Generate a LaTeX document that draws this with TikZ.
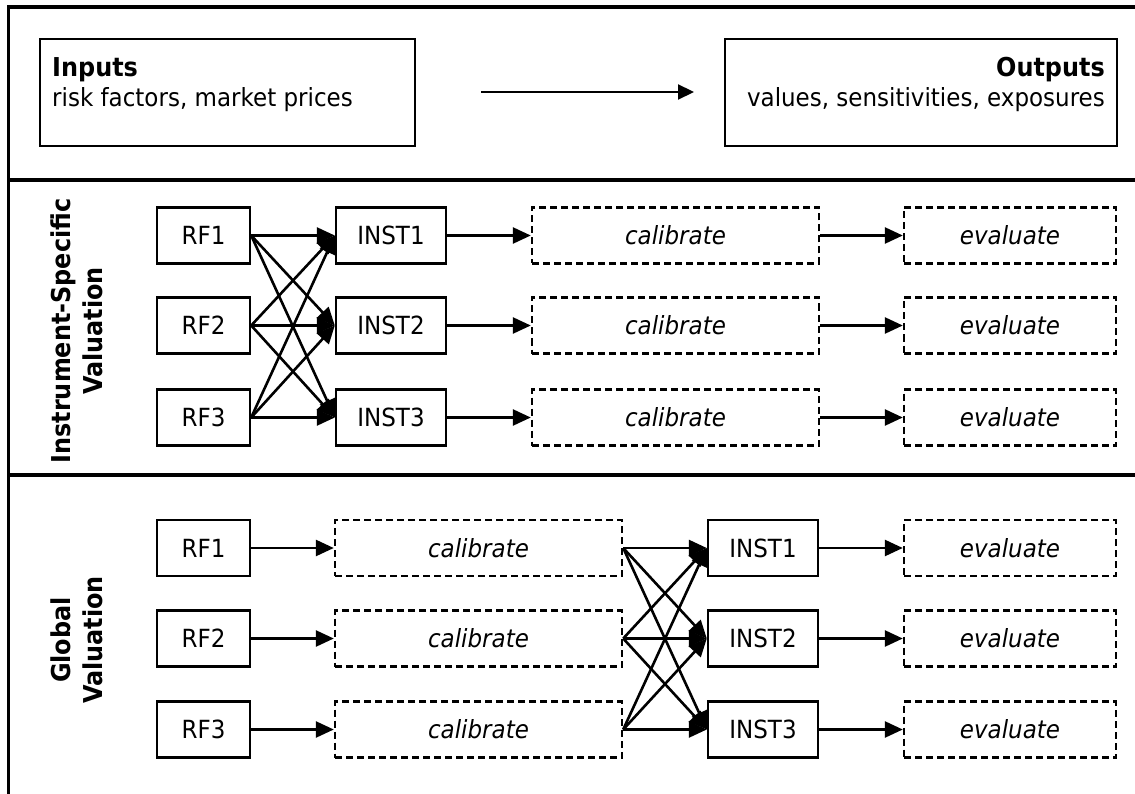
\documentclass[tikz,border=0pt]{standalone}
\usepackage{fontspec}
\setmainfont{DejaVu Sans}[FakeStretch=0.92]
\usetikzlibrary{arrows.meta}
\begin{document}
\begin{tikzpicture}[x=1pt,y=-1pt,
  reg/.style={font=\fontsize{25}{29}\selectfont},
  boldtxt/.style={font=\fontsize{26}{30}\selectfont\bfseries},
  box/.style={draw, line width=2.4pt, minimum height=56pt, inner sep=0pt, reg},
  rfbox/.style={box, minimum width=93pt},
  instbox/.style={box, minimum width=110pt},
  calbox/.style={box, minimum width=287pt, dash pattern=on 7pt off 4pt, font=\fontsize{25}{29}\selectfont\itshape},
  evalbox/.style={calbox, minimum width=212pt},
  topbox/.style={draw, line width=2.4pt, minimum height=107pt, inner sep=0pt},
  conn/.style={line width=2.6pt, -{Triangle[length=18pt,width=16pt]}},
  frame/.style={line width=3.5pt},
  txt/.style={inner sep=0pt, reg},
  lbl/.style={inner sep=0pt, boldtxt, rotate=90, anchor=base}
]
\useasboundingbox (0,0) rectangle (1135,794);
\fill[white] (0,0) rectangle (1135,794);

% frame
\draw[frame] (8.5,794) -- (8.5,7) -- (1135,7);
\draw[frame] (8.5,180) -- (1135,180);
\draw[frame] (8.5,475) -- (1135,475);

% top boxes
\node[topbox, minimum width=375pt] (inbox) at (227.5,92.5) {};
\node[txt, boldtxt, anchor=base west] (intitle) at (52,77) {Inputs};
\node[txt, anchor=base west] (intext) at (52,107) {risk factors, market prices};
\node[topbox, minimum width=392pt] (outbox) at (921,92.5) {};
\node[txt, boldtxt, anchor=base east] (outtitle) at (1105,77) {Outputs};
\node[txt, anchor=base east] (outtext) at (1105,107) {values, sensitivities, exposures};
\coordinate (ta) at (481,92);
\coordinate (tb) at (694,92);
\draw[line width=2.2pt, -{Triangle[length=16pt,width=15pt]}] (ta) -- (tb);

% side labels
\node[lbl] (l1a) at (70,331) {Instrument-Specific};
\node[lbl] (l1b) at (102,331) {Valuation};
\node[lbl] (l2a) at (70,640) {Global};
\node[lbl] (l2b) at (102,640) {Valuation};

% instrument-specific section
\foreach \i/\y in {1/235.5,2/325.5,3/417.5}{
  \node[rfbox] (ar\i) at (203.5,\y) {RF\i};
  \node[instbox] (ai\i) at (391,\y) {INST\i};
  \node[calbox] (ac\i) at (675.5,\y) {calibrate};
  \node[evalbox] (ae\i) at (1010,\y) {evaluate};
}
\foreach \i in {1,2,3}{
  \foreach \j in {1,2,3}{
    \draw[conn] (ar\i.east) -- (ai\j.west);
  }
  \draw[conn] (ai\i.east) -- (ac\i.west);
  \draw[conn] (ac\i.east) -- (ae\i.west);
}

% global section
\foreach \i/\y in {1/548,2/638.5,3/729.5}{
  \node[rfbox] (br\i) at (203.5,\y) {RF\i};
  \node[calbox] (bc\i) at (478.5,\y) {calibrate};
  \node[instbox] (bi\i) at (763,\y) {INST\i};
  \node[evalbox] (be\i) at (1010,\y) {evaluate};
}
\foreach \i in {1,2,3}{
  \draw[conn] (br\i.east) -- (bc\i.west);
  \foreach \j in {1,2,3}{
    \draw[conn] (bc\i.east) -- (bi\j.west);
  }
  \draw[conn] (bi\i.east) -- (be\i.west);
}
\end{tikzpicture}
\end{document}
